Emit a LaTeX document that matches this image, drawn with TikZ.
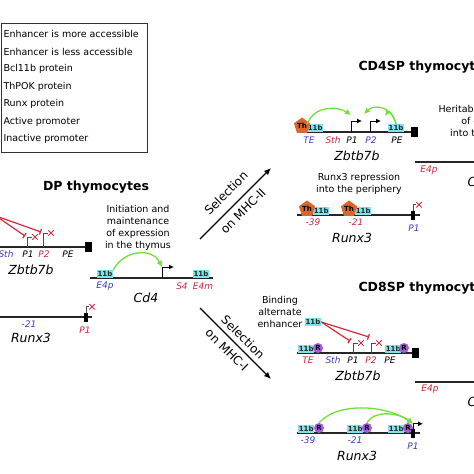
\documentclass[tikz,border=0pt]{standalone}
\usepackage{fontspec}
\setmainfont{DejaVu Sans}
\usetikzlibrary{arrows.meta,shapes.geometric,shapes.misc}

\definecolor{enhcyan}{HTML}{80E2EC}
\definecolor{thorange}{HTML}{D9662B}
\definecolor{runxpurple}{HTML}{A55BDA}
\definecolor{arcgreen}{HTML}{6FE03A}
\definecolor{inhred}{HTML}{D8283A}
\definecolor{lblblue}{HTML}{3C3CC0}
\definecolor{lblred}{HTML}{C8283C}

\begin{document}
\begin{tikzpicture}[x=1pt, y=-1pt, >=Latex,
  gene/.style={line width=1.2pt, black!85},
  bx/.style={fill=enhcyan, font=\bfseries\fontsize{7}{7}\selectfont, inner sep=0.6pt, minimum height=7.5pt, text=black!85},
  th/.style={regular polygon, regular polygon sides=5, fill=thorange, minimum size=12pt, inner sep=0pt, font=\bfseries\fontsize{7}{7}\selectfont},
  rx/.style={circle, fill=runxpurple, minimum size=10pt, inner sep=0pt, font=\bfseries\fontsize{7}{7}\selectfont},
  blk/.style={fill=black, inner sep=0pt, minimum width=7pt, minimum height=10pt},
  pbox/.style={fill=black, inner sep=0pt, minimum width=4pt, minimum height=9pt},
  lbl/.style={font=\itshape\fontsize{9}{9}\selectfont},
  gname/.style={font=\itshape\fontsize{12.5}{12.5}\selectfont},
  note/.style={font=\fontsize{9.5}{12}\selectfont, align=center},
  seltxt/.style={font=\fontsize{12}{12}\selectfont},
  ttl/.style={font=\bfseries\fontsize{12.5}{12.5}\selectfont},
  prom/.style={line width=0.9pt, black!70},
  act/.style={line width=0.9pt, -{Latex[length=5pt,width=5pt]}},
  nox/.style={cross out, draw=inhred, line width=0.9pt, minimum size=4.5pt, inner sep=0pt},
  inh/.style={inhred, line width=1.2pt, -{Bar[width=6pt]}},
  grarc/.style={arcgreen, line width=1.3pt, -{Latex[length=6pt,width=6pt]}},
  sel/.style={line width=1.2pt, -{Latex[length=7pt,width=6pt]}},
]
\useasboundingbox (0,0) rectangle (474,474);
\clip (0,0) rectangle (474,474);

% legend
\node[draw=black!80, line width=1pt, minimum width=146pt, minimum height=129pt, anchor=north west, inner sep=0pt] (legend) at (1,23) {};
\foreach \t [count=\i] in {Enhancer is more accessible, Enhancer is less accessible, Bcl11b protein, ThPOK protein, Runx protein, Active promoter, Inactive promoter}
  \node[font=\fontsize{9.5}{9.5}\selectfont, anchor=west] (leg\i) at (0,16.5+17.5*\i) {\t};

% DP thymocytes
\node[ttl] (dpttl) at (96,187) {DP thymocytes};

\coordinate (dpzL) at (-5,247);
\coordinate (dpzR) at (92,247);
\draw[gene] (dpzL) -- (dpzR);
\node[blk] (dpzend) at (88,247) {};
\coordinate (dpp1) at (27,247);
\coordinate (dpp2) at (43,247);
\draw[prom] (dpp1) -- ++(0,-10) -- ++(5,0) node[nox, right=0.3pt] (dpx1) {};
\draw[prom] (dpp2) -- ++(0,-14) -- ++(5,0) node[nox, right=0.3pt] (dpx2) {};
\coordinate (dpsrc) at (-4,216);
\coordinate (dpt1) at (25,236);
\coordinate (dpt2) at (41,232);
\draw[inh] (dpsrc) -- (dpt1);
\draw[inh] (dpsrc) -- (dpt2);
\node[lbl, text=lblblue] (dpsth) at (6,254) {Sth};
\node[lbl] (dpp1l) at (28,254) {P1};
\node[lbl, text=lblred] (dpp2l) at (44,254) {P2};
\node[lbl] (dppel) at (68,254) {PE};
\node[gname] (dpzb) at (31,270) {Zbtb7b};

\node[note] (dpnote) at (138,228) {Initiation and\\maintenance\\of expression\\in the thymus};
\coordinate (dpcL) at (90,278);
\coordinate (dpcR) at (213,278);
\draw[gene] (dpcL) -- (dpcR);
\node[bx, anchor=south] (dpe4p) at (105,278) {11b};
\node[bx, anchor=south] (dpe4m) at (201,278) {11b};
\coordinate (dpcp) at (162,278);
\draw[act] (dpcp) -- ++(0,-11) coordinate (dpctop) -- ++(12,0);
\draw[grarc] (dpe4p.north east) .. controls +(10,-20) and +(-10,-20) .. (dpctop);
\node[lbl, text=lblblue] (dpe4pl) at (105,286) {E4p};
\node[lbl, text=lblred] (dps4l) at (182,286) {S4};
\node[lbl, text=lblred] (dpe4ml) at (203,286) {E4m};
\node[gname] (dpcd4) at (146,298) {Cd4};

\coordinate (dprL) at (-5,317);
\coordinate (dprR) at (92,317);
\draw[gene] (dprL) -- (dprR);
\node[pbox] (dprp1) at (86,317.5) {};
\draw[prom] (dprp1.north) -- ++(0,-6) -- ++(3,0) node[nox, right=0.3pt] (dprx) {};
\node[lbl, text=lblblue] (dpr21) at (29,324) {-21};
\node[lbl, text=lblred] (dprp1l) at (85,330) {P1};
\node[gname] (dprunx) at (31,338) {Runx3};

% selection
\coordinate (s2a) at (200,239);
\coordinate (s2b) at (271,168);
\draw[sel] (s2a) -- (s2b);
\node[seltxt, rotate=45] (s2t1) at (226,193) {Selection};
\node[seltxt, rotate=45] (s2t2) at (243,211) {on MHC-II};
\coordinate (s1a) at (200,308);
\coordinate (s1b) at (271,379);
\draw[sel] (s1a) -- (s1b);
\node[seltxt, rotate=-45] (s1t1) at (243,337) {Selection};
\node[seltxt, rotate=-45] (s1t2) at (227,350) {on MHC-I};

% CD4SP thymocytes
\node[ttl, anchor=west] (c4ttl) at (355,67) {CD4SP thymocytes};

\coordinate (c4zL) at (297,132);
\coordinate (c4zR) at (418,132);
\draw[gene] (c4zL) -- (c4zR);
\node[blk] (c4zend) at (414,132) {};
\node[bx, anchor=south west] (c4te) at (307,132) {11b};
\node[th] (c4th) at (302,126) {Th};
\coordinate (c4p1) at (351,132);
\coordinate (c4p2) at (370,132);
\draw[act] (c4p1) -- ++(0,-11) -- ++(11,0);
\draw[act] (c4p2) -- ++(0,-11) -- ++(11,0);
\node[bx, anchor=south] (c4pe) at (396,132) {11b};
\coordinate (c4a1) at (351,115);
\coordinate (c4a2) at (364,114);
\coordinate (c4a3) at (385,116);
\draw[grarc] (c4te.north west) .. controls +(8,-20) and +(-12,-8) .. (c4a1);
\draw[grarc] (c4pe.north) .. controls +(-4,-18) and +(10,-10) .. (c4a2);
\draw[grarc] (c4pe.north) .. controls +(-2,-8) and +(4,-6) .. (c4a3);
\node[lbl, text=lblblue] (c4tel) at (309,140) {TE};
\node[lbl, text=lblred] (c4sth) at (333,140) {Sth};
\node[lbl] (c4p1l) at (352,140) {P1};
\node[lbl, text=lblblue] (c4p2l) at (371,140) {P2};
\node[lbl] (c4pel) at (397,140) {PE};
\node[gname] (c4zb) at (357,156) {Zbtb7b};

\node[note] (c4cnote) at (493,122) {Heritable maintenance\\of expression\\into the periphery};
\coordinate (c4cL) at (415,162);
\coordinate (c4cR) at (480,162);
\draw[gene] (c4cL) -- (c4cR);
\node[lbl, text=lblred] (c4e4p) at (429,170) {E4p};
\node[gname] (c4cd4) at (480,182) {Cd4};

\node[note] (c4rnote) at (359,184) {Runx3 repression\\into the periphery};
\coordinate (c4rL) at (297,215);
\coordinate (c4rR) at (420,215);
\draw[gene] (c4rL) -- (c4rR);
\node[bx, anchor=south west] (c4r39) at (313,215) {11b};
\node[th] (c4th39) at (307,209) {Th};
\node[bx, anchor=south west] (c4r21) at (355,215) {11b};
\node[th] (c4th21) at (349,209) {Th};
\node[pbox] (c4rp1) at (413,215.5) {};
\draw[prom] (c4rp1.north) -- ++(0,-6) -- ++(3,0) node[nox, right=0.3pt] (c4rx) {};
\node[lbl, text=lblred] (c4r39l) at (313,222) {-39};
\node[lbl, text=lblred] (c4r21l) at (356,222) {-21};
\node[lbl, text=lblblue] (c4rp1l) at (414,228) {P1};
\node[gname] (c4runx) at (352,238) {Runx3};

% CD8SP thymocytes
\node[ttl, anchor=west] (c8ttl) at (355,288) {CD8SP thymocytes};

\node[note] (c8note) at (280,312) {Binding\\alternate\\enhancer};
\node[bx] (c8alt) at (313,322) {11b};
\coordinate (c8zL) at (297,353);
\coordinate (c8zR) at (418,353);
\draw[gene] (c8zL) -- (c8zR);
\node[blk] (c8zend) at (415,353) {};
\node[bx, anchor=south west] (c8te) at (298,353) {11b};
\node[rx] (c8teR) at (318,348) {R};
\node[bx, anchor=south west] (c8pe) at (385,353) {11b};
\node[rx] (c8peR) at (404,348) {R};
\coordinate (c8p1) at (353,353);
\coordinate (c8p2) at (371,353);
\draw[prom] (c8p1) -- ++(0,-10) -- ++(5,0) node[nox, right=0.3pt] (c8x1) {};
\draw[prom] (c8p2) -- ++(0,-10) -- ++(5,0) node[nox, right=0.3pt] (c8x2) {};
\coordinate (c8t1) at (350,341);
\coordinate (c8t2) at (369,337);
\draw[inh] (c8alt.east) -- (c8t1);
\draw[inh] (c8alt.east) -- (c8t2);
\node[lbl, text=lblred] (c8tel) at (308,360) {TE};
\node[lbl, text=lblblue] (c8sth) at (333,360) {Sth};
\node[lbl] (c8p1l) at (353,360) {P1};
\node[lbl, text=lblred] (c8p2l) at (371,360) {P2};
\node[lbl] (c8pel) at (390,360) {PE};
\node[gname] (c8zb) at (358,376) {Zbtb7b};

\coordinate (c8cL) at (415,382);
\coordinate (c8cR) at (480,382);
\draw[gene] (c8cL) -- (c8cR);
\node[lbl, text=lblred] (c8e4p) at (430,389) {E4p};
\node[gname] (c8cd4) at (480,402) {Cd4};

\coordinate (c8rL) at (297,433);
\coordinate (c8rR) at (420,433);
\draw[gene] (c8rL) -- (c8rR);
\node[bx, anchor=south west] (c8r39) at (298,433) {11b};
\node[rx] (c8r39R) at (319,428) {R};
\node[bx, anchor=south west] (c8r21) at (347,433) {11b};
\node[rx] (c8r21R) at (367,428) {R};
\node[bx, anchor=south west] (c8rp) at (388,433) {11b};
\node[rx] (c8rpR) at (408,428) {R};
\node[pbox] (c8rp1) at (413,433.5) {};
\draw[act] (c8rp1.north) -- ++(0,-5) coordinate (c8rtop) -- ++(10,0);
\draw[grarc] (c8r39R.north) .. controls +(20,-22) and +(-25,-18) .. (c8rtop);
\draw[grarc] (c8r21R.north) .. controls +(8,-14) and +(-12,-10) .. (c8rtop);
\node[lbl, text=lblblue] (c8r39l) at (308,440) {-39};
\node[lbl, text=lblblue] (c8r21l) at (355,440) {-21};
\node[lbl, text=lblblue] (c8rp1l) at (413,446) {P1};
\node[gname] (c8runx) at (357,456) {Runx3};
\end{tikzpicture}
\end{document}
